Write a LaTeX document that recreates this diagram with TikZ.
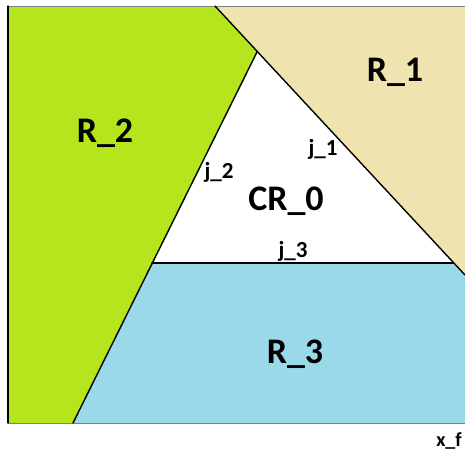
\documentclass[tikz,border=0pt]{standalone}
\usepackage{fontspec}
\setmainfont{Carlito}
\definecolor{limegreen}{RGB}{181,230,29}
\definecolor{lighttan}{RGB}{239,228,176}
\definecolor{paleblue}{RGB}{153,217,234}
\begin{document}
\begin{tikzpicture}[x=1pt,y=-1pt,line cap=round,line join=round,
  region/.style={anchor=base,inner sep=0pt,font=\fontsize{36}{40}\selectfont\bfseries},
  facet/.style={anchor=base,inner sep=0pt,font=\fontsize{23}{26}\selectfont\bfseries}]
  \useasboundingbox (0,0) rectangle (465,450);
  % regions
  \fill[limegreen] (8,6) -- (215,6) -- (257,52) -- (73,423) -- (8,423) -- cycle;
  \fill[lighttan] (215,6) -- (465,6) -- (465,275) -- cycle;
  \fill[paleblue] (152,263) -- (453,263) -- (465,275) -- (465,423) -- (73,423) -- cycle;
  % frame
  \draw[line width=0.9pt,gray] (8,6) -- (465,6);
  \draw[line width=0.9pt,gray] (8,423) -- (465,423);
  \draw[line width=1.1pt] (8,6) -- (8,423);
  % facets
  \draw[line width=1.4pt] (215,6) -- (465,275);
  \draw[line width=1.4pt] (257,52) -- (73,423);
  \draw[line width=1.4pt] (152,263) -- (453,263);
  % labels
  \node[region] (r1) at (395,81) {R\_1};
  \node[region] (r2) at (105,142) {R\_2};
  \node[region] (r3) at (295,363) {R\_3};
  \node[region] (cr0) at (286,210) {CR\_0};
  \node[facet] (j1) at (323,155) {j\_1};
  \node[facet] (j2) at (219,178) {j\_2};
  \node[facet] (j3) at (293,257) {j\_3};
  \node[anchor=base,inner sep=0pt,font=\fontsize{20}{22}\selectfont\bfseries] (xf) at (449,446) {x\_f};
\end{tikzpicture}
\end{document}
